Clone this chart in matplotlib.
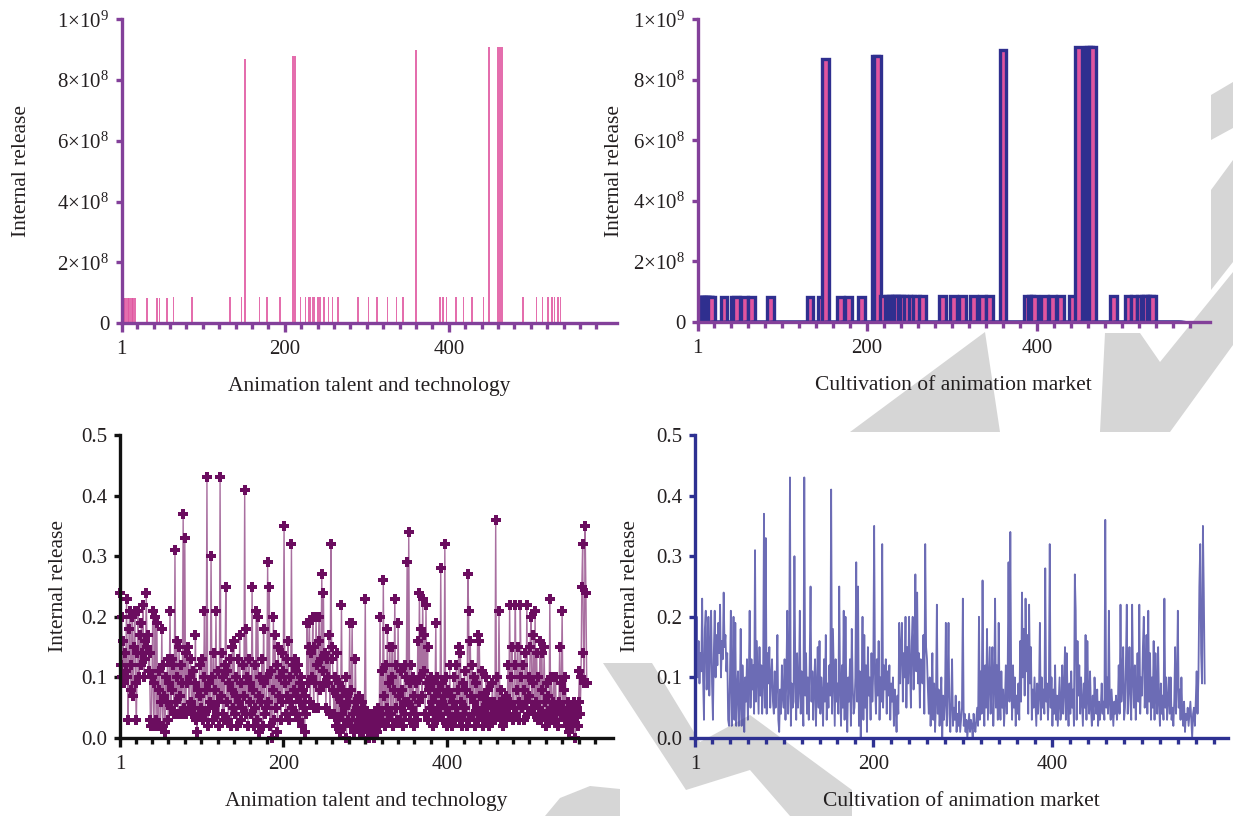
import numpy as np
import matplotlib
matplotlib.use("Agg")
import matplotlib.pyplot as plt
from matplotlib.patches import Polygon
from matplotlib.ticker import FixedLocator

plt.rcParams['font.family'] = ['Liberation Serif', 'DejaVu Serif']
plt.rcParams['mathtext.fontset'] = 'custom'
plt.rcParams['mathtext.rm'] = 'Liberation Serif'
plt.rcParams['mathtext.it'] = 'Liberation Serif:italic'
plt.rcParams['mathtext.bf'] = 'Liberation Serif:bold'

# positions (1-based sample index) and heights of the non-zero release bars
spike_pos = [2, 4, 5, 7, 9, 10, 12, 14, 15, 17, 32, 44, 47, 56, 64, 87,
             133, 147, 151, 169, 178, 194, 210, 212,
             219, 225, 229, 231, 234, 236, 240, 243, 248, 253, 258, 265,
             289, 302, 312, 325, 336, 344, 360,
             389, 393, 397, 409, 418, 428, 442, 449, 460, 462, 465,
             490, 507, 514, 521, 526, 529, 533, 536]
spike_val = [8.2e7, 8.2e7, 8.2e7, 8.2e7, 8.2e7, 8.2e7, 8.2e7, 8.2e7, 8.2e7, 8.2e7,
             8.2e7, 8.2e7, 8.2e7, 8.2e7, 8.4e7, 8.4e7,
             8.4e7, 8.4e7, 8.7e8, 8.4e7, 8.4e7, 8.4e7, 8.8e8, 8.8e8,
             8.6e7, 8.6e7, 8.6e7, 8.6e7, 8.6e7, 8.6e7, 8.6e7, 8.6e7, 8.6e7, 8.6e7, 8.6e7, 8.6e7,
             8.6e7, 8.6e7, 8.6e7, 8.6e7, 8.6e7, 8.6e7, 9.0e8,
             8.6e7, 8.6e7, 8.6e7, 8.6e7, 8.6e7, 8.6e7, 8.6e7, 9.1e8, 9.1e8, 9.1e8, 9.1e8,
             8.7e7, 8.7e7, 8.7e7, 8.7e7, 8.7e7, 8.7e7, 8.7e7, 8.7e7]

# internal release share, one value per sample
share = [
    0.24, 0.12, 0.20, 0.10, 0.16, 0.09, 0.14, 0.11, 0.23, 0.10,
    0.03, 0.18, 0.21, 0.08, 0.12, 0.20, 0.07, 0.15, 0.21, 0.09,
    0.03, 0.14, 0.21, 0.10, 0.17, 0.12, 0.19, 0.14, 0.22, 0.10,
    0.16, 0.13, 0.24, 0.15, 0.17, 0.11, 0.14, 0.03, 0.02, 0.10,
    0.21, 0.02, 0.09, 0.20, 0.03, 0.19, 0.02, 0.08, 0.11, 0.02,
    0.06, 0.18, 0.02, 0.12, 0.07, 0.01, 0.10, 0.06, 0.13, 0.03,
    0.09, 0.21, 0.05, 0.13, 0.08, 0.12, 0.04, 0.31, 0.06, 0.16,
    0.10, 0.04, 0.15, 0.07, 0.12, 0.04, 0.09, 0.37, 0.05, 0.33,
    0.04, 0.14, 0.09, 0.15, 0.05, 0.10, 0.13, 0.06, 0.04, 0.11,
    0.05, 0.09, 0.17, 0.03, 0.01, 0.08, 0.04, 0.12, 0.07, 0.05,
    0.13, 0.03, 0.10, 0.21, 0.04, 0.08, 0.43, 0.02, 0.09, 0.05,
    0.06, 0.30, 0.10, 0.03, 0.14, 0.05, 0.08, 0.21, 0.04, 0.11,
    0.06, 0.02, 0.43, 0.07, 0.14, 0.04, 0.10, 0.03, 0.12, 0.25,
    0.06, 0.11, 0.03, 0.09, 0.13, 0.02, 0.08, 0.15, 0.05, 0.16,
    0.04, 0.10, 0.07, 0.02, 0.13, 0.06, 0.17, 0.03, 0.09, 0.05,
    0.12, 0.07, 0.41, 0.04, 0.18, 0.10, 0.02, 0.13, 0.06, 0.09,
    0.04, 0.25, 0.08, 0.02, 0.12, 0.05, 0.21, 0.03, 0.20, 0.07,
    0.01, 0.10, 0.06, 0.13, 0.02, 0.18, 0.09, 0.04, 0.05, 0.10,
    0.29, 0.06, 0.25, 0.02, 0.11, 0.00, 0.08, 0.20, 0.03, 0.17,
    0.05, 0.12, 0.01, 0.15, 0.07, 0.10, 0.03, 0.14, 0.06, 0.11,
    0.35, 0.09, 0.04, 0.13, 0.07, 0.16, 0.03, 0.10, 0.06, 0.32,
    0.05, 0.12, 0.08, 0.13, 0.04, 0.11, 0.07, 0.12, 0.03, 0.09,
    0.06, 0.10, 0.02, 0.08, 0.05, 0.01, 0.07, 0.04, 0.19, 0.09,
    0.15, 0.19, 0.06, 0.14, 0.10, 0.20, 0.05, 0.15, 0.09, 0.20,
    0.12, 0.05, 0.16, 0.20, 0.08, 0.13, 0.27, 0.11, 0.24, 0.09,
    0.14, 0.05, 0.13, 0.10, 0.09, 0.17, 0.04, 0.32, 0.15, 0.13,
    0.08, 0.04, 0.10, 0.02, 0.07, 0.14, 0.03, 0.09, 0.01, 0.06,
    0.22, 0.04, 0.08, 0.02, 0.05, 0.10, 0.00, 0.07, 0.03, 0.06,
    0.19, 0.02, 0.08, 0.19, 0.04, 0.01, 0.06, 0.13, 0.02, 0.05,
    0.03, 0.07, 0.01, 0.04, 0.02, 0.06, 0.01, 0.03, 0.05, 0.23,
    0.02, 0.04, 0.01, 0.03, 0.00, 0.02, 0.04, 0.01, 0.03, 0.02,
    0.00, 0.04, 0.02, 0.01, 0.03, 0.05, 0.02, 0.20, 0.03, 0.11,
    0.04, 0.26, 0.07, 0.02, 0.12, 0.05, 0.18, 0.03, 0.09, 0.15,
    0.04, 0.10, 0.15, 0.02, 0.08, 0.23, 0.05, 0.12, 0.03, 0.19,
    0.07, 0.03, 0.11, 0.05, 0.08, 0.02, 0.06, 0.12, 0.04, 0.10,
    0.29, 0.06, 0.34, 0.09, 0.03, 0.12, 0.05, 0.10, 0.02, 0.07,
    0.04, 0.09, 0.03, 0.16, 0.06, 0.24, 0.10, 0.18, 0.07, 0.23,
    0.11, 0.17, 0.04, 0.22, 0.09, 0.15, 0.03, 0.08, 0.05, 0.10,
    0.06, 0.02, 0.09, 0.04, 0.07, 0.19, 0.03, 0.10, 0.05, 0.08,
    0.04, 0.28, 0.06, 0.09, 0.03, 0.07, 0.32, 0.05, 0.10, 0.02,
    0.08, 0.04, 0.12, 0.03, 0.07, 0.02, 0.06, 0.10, 0.03, 0.05,
    0.12, 0.04, 0.08, 0.15, 0.03, 0.14, 0.06, 0.02, 0.09, 0.04,
    0.11, 0.05, 0.08, 0.02, 0.27, 0.21, 0.03, 0.16, 0.07, 0.12,
    0.04, 0.10, 0.06, 0.02, 0.09, 0.05, 0.17, 0.03, 0.16, 0.07,
    0.04, 0.11, 0.05, 0.02, 0.07, 0.03, 0.10, 0.06, 0.04, 0.08,
    0.02, 0.06, 0.03, 0.05, 0.09, 0.04, 0.06, 0.03, 0.36, 0.05,
    0.10, 0.04, 0.21, 0.06, 0.03, 0.08, 0.05, 0.02, 0.06, 0.04,
    0.07, 0.03, 0.05, 0.12, 0.04, 0.22, 0.06, 0.10, 0.15, 0.03,
    0.05, 0.12, 0.22, 0.04, 0.08, 0.15, 0.06, 0.03, 0.22, 0.10,
    0.05, 0.12, 0.03, 0.08, 0.14, 0.06, 0.22, 0.04, 0.10, 0.07,
    0.15, 0.20, 0.05, 0.09, 0.17, 0.04, 0.21, 0.06, 0.14, 0.03,
    0.10, 0.05, 0.16, 0.03, 0.14, 0.08, 0.04, 0.15, 0.06, 0.02,
    0.09, 0.04, 0.07, 0.03, 0.23, 0.05, 0.10, 0.03, 0.06, 0.10,
    0.04, 0.10, 0.03, 0.05, 0.02, 0.06, 0.15, 0.04, 0.09, 0.21,
    0.05, 0.08, 0.03, 0.10, 0.04, 0.02, 0.06, 0.01, 0.04, 0.03,
    0.05, 0.02, 0.04, 0.06, 0.03, 0.00, 0.04, 0.05, 0.02, 0.06,
    0.11, 0.04, 0.10, 0.25, 0.32, 0.14, 0.09, 0.35, 0.24, 0.09,
]

x_major = [1, 200, 400]
x_minor = list(range(20, 600, 20))
top_yticks = [0, 2e8, 4e8, 6e8, 8e8, 1e9]
top_ylabels = ['0', '2×10$^{8}$', '4×10$^{8}$', '6×10$^{8}$', '8×10$^{8}$', '1×10$^{9}$']
bot_yticks = [0.0, 0.1, 0.2, 0.3, 0.4, 0.5]
bot_ylabels = ['0.0', '0.1', '0.2', '0.3', '0.4', '0.5']
xlabel_left = 'Animation talent and technology'
xlabel_right = 'Cultivation of animation market'
ylabel = 'Internal release'

n = len(share)
x = np.arange(1, n + 1)
release = np.zeros(n)
release[np.array(spike_pos) - 1] = spike_val

W, H = 1233, 816
fig = plt.figure(figsize=(W / 100, H / 100), dpi=100)


def px_axes(left, top, right, bottom):
    return fig.add_axes([left / W, 1 - bottom / H, (right - left) / W, (bottom - top) / H])


def style(ax, color, xmax, ymax, yticks, ylabels, xlabel, ylab_x):
    ax.set_facecolor('none')
    for s in ['top', 'right']:
        ax.spines[s].set_visible(False)
    for s in ['left', 'bottom']:
        ax.spines[s].set_color(color)
        ax.spines[s].set_linewidth(2.4)
        ax.spines[s].set_zorder(5)
    ax.set_xlim(1, xmax)
    ax.set_ylim(0, ymax)
    ax.set_xticks(x_major)
    ax.set_xticklabels([str(v) for v in x_major])
    ax.xaxis.set_minor_locator(FixedLocator(x_minor))
    ax.set_yticks(yticks)
    ax.set_yticklabels(ylabels)
    ax.tick_params(axis='x', which='major', length=6.5, width=2.4, color=color,
                   labelsize=15, labelcolor='#231f20', pad=6)
    ax.tick_params(axis='x', which='minor', length=4, width=2.4, color=color)
    ax.tick_params(axis='y', length=4, width=2.4, color=color,
                   labelsize=15, labelcolor='#231f20', pad=5)
    ax.set_xlabel(xlabel, fontsize=15.5, color='#231f20')
    ax.xaxis.set_label_coords(0.5, -0.178)
    ax.set_ylabel(ylabel, fontsize=15.5, color='#231f20')
    ax.yaxis.set_label_coords(ylab_x, 0.5)


# watermark pieces (behind the panels)
grey = '#d6d6d6'
marks = [
    [(850, 432), (985, 332), (1000, 432)],
    [(1105, 333), (1140, 333), (1160, 362), (1233, 272), (1233, 345), (1170, 432), (1100, 432)],
    [(1211, 95), (1233, 82), (1233, 128), (1211, 140)],
    [(1211, 190), (1233, 160), (1233, 262), (1211, 290)],
    [(603, 663), (652, 663), (700, 742), (750, 715), (852, 790), (852, 816),
     (790, 816), (750, 770), (686, 790)],
    [(545, 816), (560, 798), (590, 786), (620, 789), (620, 816)],
]
for m in marks:
    fig.add_artist(Polygon([(a / W, 1 - b / H) for a, b in m], closed=True,
                           transform=fig.transFigure, facecolor=grey,
                           edgecolor='none', zorder=-1))

purple = '#83409a'
pink = '#e0559f'
navy = '#2e3192'

# top left: thin spikes
ax1 = px_axes(121.7, 19.3, 617, 323)
ax1.bar(x, release, width=2.0, color=pink, alpha=0.85, linewidth=0, zorder=2)
style(ax1, purple, 605, 1e9, top_yticks, top_ylabels, xlabel_left, -0.183)

# top right: wide outlined bars
ax2 = px_axes(697.7, 19.3, 1209.7, 322)
ax2.bar(x, release, width=8, facecolor=pink, edgecolor='#2f2f8f', linewidth=2.4, zorder=2)
style(ax2, purple, 603, 1e9, top_yticks, top_ylabels, xlabel_right, -0.144)

# bottom left: line with markers
ax3 = px_axes(120, 435, 613, 738)
ax3.plot(x, share, color='#8c3f80', linewidth=1.0, alpha=0.75, zorder=2)
ax3.plot(x, share, linestyle='none', marker='P', markersize=7.5, color='#6b0d5f',
         markeredgewidth=0, clip_on=False, zorder=3)
style(ax3, '#111111', 602, 0.5, bot_yticks, bot_ylabels, xlabel_left, -0.105)

# bottom right: plain line
ax4 = px_axes(695, 435, 1228, 738)
ax4.plot(x, share, color='#3b3b9c', linewidth=1.3, alpha=0.75, zorder=2)
style(ax4, navy, 596, 0.5, bot_yticks, bot_ylabels, xlabel_right, -0.103)

fig.savefig('out.png', dpi=100)
